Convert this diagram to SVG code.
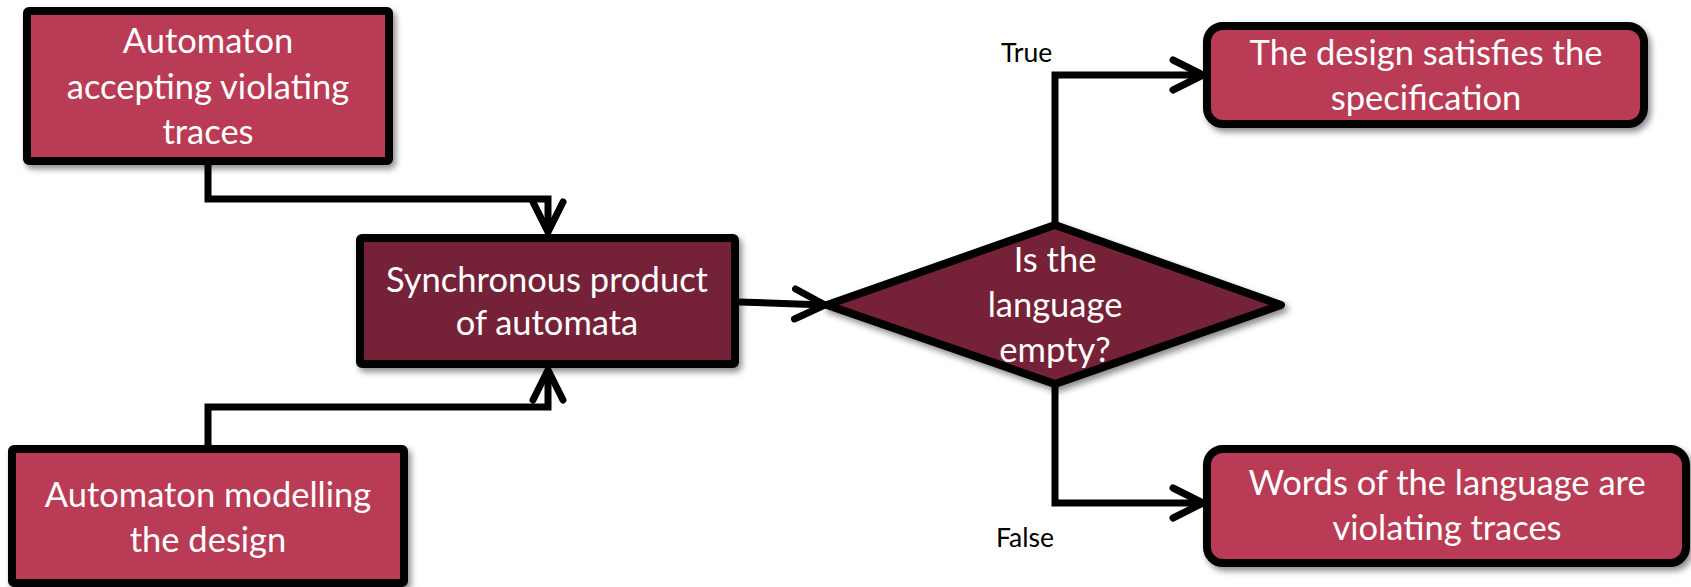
<svg xmlns="http://www.w3.org/2000/svg" width="1691" height="587" viewBox="0 0 1691 587">
  <style>
    .node { stroke: #000; stroke-width: 8; stroke-linejoin: round; filter: url(#shadow); }
    .light { fill: #B93B55; }
    .dark { fill: #742439; }
    .label { font-family: Lato, "Open Sans", "Liberation Sans", sans-serif; font-size: 34.5px; fill: #fff; text-anchor: middle; }
    .branch { font-family: Lato, "Open Sans", "Liberation Sans", sans-serif; font-size: 26.5px; fill: #000; }
    .wire { fill: none; stroke: #000; stroke-width: 7; stroke-linejoin: miter; }
  </style>
  <defs>
    <filter id="shadow" x="-10%" y="-10%" width="130%" height="140%">
      <feDropShadow dx="3" dy="4" stdDeviation="3" flood-color="#000" flood-opacity="0.45"/>
    </filter>
    <marker id="chevron" markerUnits="userSpaceOnUse" viewBox="-36 -20 40 40" refX="0" refY="0" markerWidth="40" markerHeight="40" orient="auto">
      <path d="M-30,-15 L0,0 L-30,15" fill="none" stroke="#000" stroke-width="7" stroke-linecap="round" stroke-linejoin="miter"/>
    </marker>
  </defs>

  <!-- connectors -->
  <g id="connectors">
    <path class="wire" d="M208,165 V199 H548 V232" marker-end="url(#chevron)"/>
    <path class="wire" d="M208,445 V407 H548 V370" marker-end="url(#chevron)"/>
    <path class="wire" d="M739,302 L825,305" marker-end="url(#chevron)"/>
    <path class="wire" d="M1055,223 V75 H1203" marker-end="url(#chevron)"/>
    <path class="wire" d="M1055,387 V503 H1203" marker-end="url(#chevron)"/>
    <text class="branch" x="1001" y="62">True</text>
    <text class="branch" x="996" y="547">False</text>
  </g>

  <g id="violating-automaton">
    <rect class="node light" x="27" y="11" width="362" height="150" rx="2"/>
    <text class="label"><tspan x="208" y="53">Automaton</tspan><tspan x="208" y="99">accepting violating</tspan><tspan x="208" y="144">traces</tspan></text>
  </g>

  <g id="design-automaton">
    <rect class="node light" x="12" y="449" width="392" height="134" rx="2"/>
    <text class="label"><tspan x="208" y="507">Automaton modelling</tspan><tspan x="208" y="552">the design</tspan></text>
  </g>

  <g id="product">
    <rect class="node dark" x="360" y="238" width="375" height="126" rx="2"/>
    <text class="label"><tspan x="547" y="292">Synchronous product</tspan><tspan x="547" y="335">of automata</tspan></text>
  </g>

  <g id="emptiness-check">
    <polygon class="node dark" points="827,305 1055,225 1281,305 1055,384"/>
    <text class="label"><tspan x="1055" y="272">Is the</tspan><tspan x="1055" y="317">language</tspan><tspan x="1055" y="362">empty?</tspan></text>
  </g>

  <g id="satisfied">
    <rect class="node light" x="1207" y="26" width="437" height="98" rx="16"/>
    <text class="label"><tspan x="1426" y="65">The design satisfies the</tspan><tspan x="1426" y="110">specification</tspan></text>
  </g>

  <g id="counterexamples">
    <rect class="node light" x="1207" y="449" width="479" height="114" rx="16"/>
    <text class="label"><tspan x="1447" y="495">Words of the language are</tspan><tspan x="1447" y="540">violating traces</tspan></text>
  </g>
</svg>
